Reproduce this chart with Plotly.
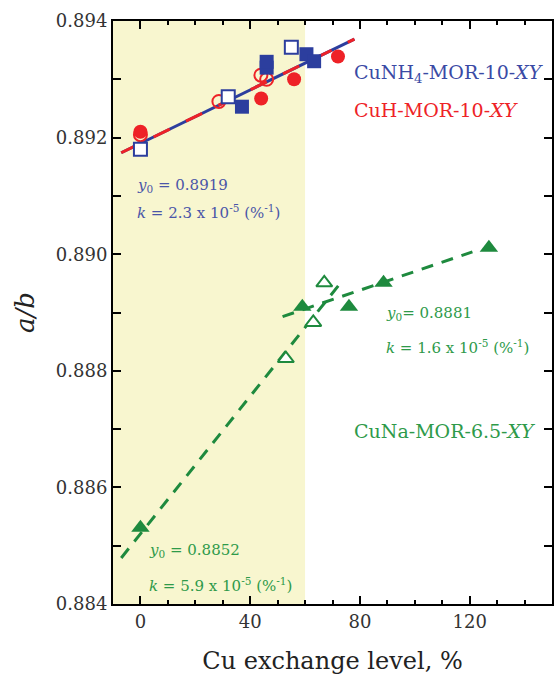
import plotly.graph_objects as go

# ---------------- data ----------------
# CuNH4-MOR-10-XY (blue squares)
nh4_filled_x = [37, 46, 46, 60.5, 63.3]
nh4_filled_y = [0.89253, 0.89320, 0.89330, 0.89343, 0.89331]
nh4_open_x = [0, 32, 55]
nh4_open_y = [0.89180, 0.89270, 0.89355]

# CuH-MOR-10-XY (red circles)
h_filled_x = [0, 44, 56, 72]
h_filled_y = [0.89210, 0.89267, 0.89300, 0.89339]
h_open_x = [0, 28.6, 43.9, 46]
h_open_y = [0.89205, 0.89262, 0.89307, 0.89300]

# CuNa-MOR-6.5-XY (green triangles)
na_filled_x = [0, 59, 76, 88.6, 127]
na_filled_y = [0.88531, 0.88910, 0.88910, 0.88951, 0.89011]
na_open_x = [53, 63, 67]
na_open_y = [0.88821, 0.88883, 0.88951]

# linear fits (end points of the drawn fit lines)
fit_blue_x = [-7, 78]
fit_blue_y = [0.89174, 0.89369]
fit_green1_x = [-7, 73.5]
fit_green1_y = [0.88479, 0.88954]
fit_green2_x = [51.8, 121]
fit_green2_y = [0.88893, 0.89004]

shade_x = [-10, 60]

x_ticks = [0, 40, 80, 120]
y_ticks = [0.884, 0.886, 0.888, 0.890, 0.892, 0.894]

BLUE = "#2C3E9E"
RED = "#EE2227"
GREEN = "#1E8A3E"
SHADE = "#F8F6CF"
FONT = "DejaVu Serif"

fig = go.Figure()

# lines
fig.add_trace(go.Scatter(x=fit_blue_x, y=fit_blue_y, mode="lines",
                         line=dict(color=BLUE, width=3), hoverinfo="skip"))
fig.add_trace(go.Scatter(x=fit_blue_x, y=fit_blue_y, mode="lines",
                         line=dict(color=RED, width=3, dash="18px,18px"), hoverinfo="skip"))
fig.add_trace(go.Scatter(x=fit_green1_x, y=fit_green1_y, mode="lines",
                         line=dict(color=GREEN, width=3, dash="12px,9px"), hoverinfo="skip"))
fig.add_trace(go.Scatter(x=fit_green2_x, y=fit_green2_y, mode="lines",
                         line=dict(color=GREEN, width=3, dash="12px,9px"), hoverinfo="skip"))

# markers
fig.add_trace(go.Scatter(x=h_filled_x, y=h_filled_y, mode="markers",
                         marker=dict(symbol="circle", size=14, color=RED, line=dict(width=0))))
fig.add_trace(go.Scatter(x=h_open_x, y=h_open_y, mode="markers",
                         marker=dict(symbol="circle-open", size=13, color=RED, line=dict(width=2, color=RED))))
fig.add_trace(go.Scatter(x=nh4_open_x, y=nh4_open_y, mode="markers",
                         marker=dict(symbol="square", size=13, color="white", line=dict(width=2, color=BLUE))))
fig.add_trace(go.Scatter(x=nh4_filled_x, y=nh4_filled_y, mode="markers",
                         marker=dict(symbol="square", size=14, color=BLUE, line=dict(width=0))))
fig.add_trace(go.Scatter(x=na_filled_x, y=na_filled_y, mode="markers",
                         marker=dict(symbol="triangle-up", size=16, color=GREEN, line=dict(width=0))))
fig.add_trace(go.Scatter(x=na_open_x, y=na_open_y, mode="markers",
                         marker=dict(symbol="triangle-up", size=14, color="white", line=dict(width=2, color=GREEN))))

fig.add_shape(type="rect", xref="x", yref="paper", x0=shade_x[0], x1=shade_x[1], y0=0, y1=1,
              fillcolor=SHADE, line=dict(width=0), layer="below")

def ann(x, y, text, color, size):
    fig.add_annotation(x=x, y=y, xref="x", yref="y", text=text, showarrow=False,
                       xanchor="left", yanchor="middle",
                       font=dict(family=FONT, size=size, color=color))

ann(-2.1, 0.89118, "<i>y</i><sub>0</sub> = 0.8919", "#4A55A8", 15)
ann(-2.1, 0.89073, "<i>k</i> = 2.3 x 10<sup>-5</sup> (%<sup>-1</sup>)", "#4A55A8", 15)
ann(77, 0.89310, "CuNH<sub>4</sub>-MOR-10-<i>XY</i>", "#3A4AA5", 19)
ann(77, 0.89248, "CuH-MOR-10-<i>XY</i>", RED, 19)
ann(88.6, 0.88898, "<i>y</i><sub>0</sub>= 0.8881", "#2E9A4A", 15)
ann(88.6, 0.88840, "<i>k</i> = 1.6 x 10<sup>-5</sup> (%<sup>-1</sup>)", "#2E9A4A", 15)
ann(77, 0.88696, "CuNa-MOR-6.5-<i>XY</i>", "#2E9A4A", 19)
ann(2.3, 0.88491, "<i>y</i><sub>0</sub> = 0.8852", "#2E9A4A", 15)
ann(2.3, 0.88433, "<i>k</i> = 5.9 x 10<sup>-5</sup> (%<sup>-1</sup>)", "#2E9A4A", 15)

fig.update_layout(
    width=556, height=681,
    margin=dict(l=113, r=2, t=21, b=77),
    plot_bgcolor="white", paper_bgcolor="white",
    showlegend=False,
    font=dict(family=FONT, size=18, color="#333333"),
    xaxis=dict(range=[-10, 150], tickvals=x_ticks, ticktext=[str(v) for v in x_ticks],
               showgrid=False, zeroline=False, showline=True, linecolor="black", linewidth=2,
               mirror="allticks", ticks="inside", ticklen=8, tickwidth=2, tickcolor="black",
               minor=dict(dtick=10, tick0=0, ticks="inside", ticklen=4, tickwidth=1.5, tickcolor="black"),
               title=dict(text="Cu exchange level, %", font=dict(family=FONT, size=24, color="#222222"),
                          standoff=22),
               tickfont=dict(family=FONT, size=18, color="#333333")),
    yaxis=dict(range=[0.884, 0.894], tickvals=y_ticks, ticktext=[f"{v:.3f}" for v in y_ticks],
               showgrid=False, zeroline=False, showline=True, linecolor="black", linewidth=2,
               mirror="allticks", ticks="inside", ticklen=8, tickwidth=2, tickcolor="black",
               minor=dict(dtick=0.001, tick0=0.884, ticks="inside", ticklen=8, tickwidth=2, tickcolor="black"),
               title=dict(text="<i>a/b</i>", font=dict(family=FONT, size=26, color="#222222"),
                          standoff=14),
               tickfont=dict(family=FONT, size=18, color="#333333")),
)

fig.write_html("out.html", config={"displayModeBar": False},
               post_script="document.body.style.margin='0';document.body.style.overflow='hidden';")
